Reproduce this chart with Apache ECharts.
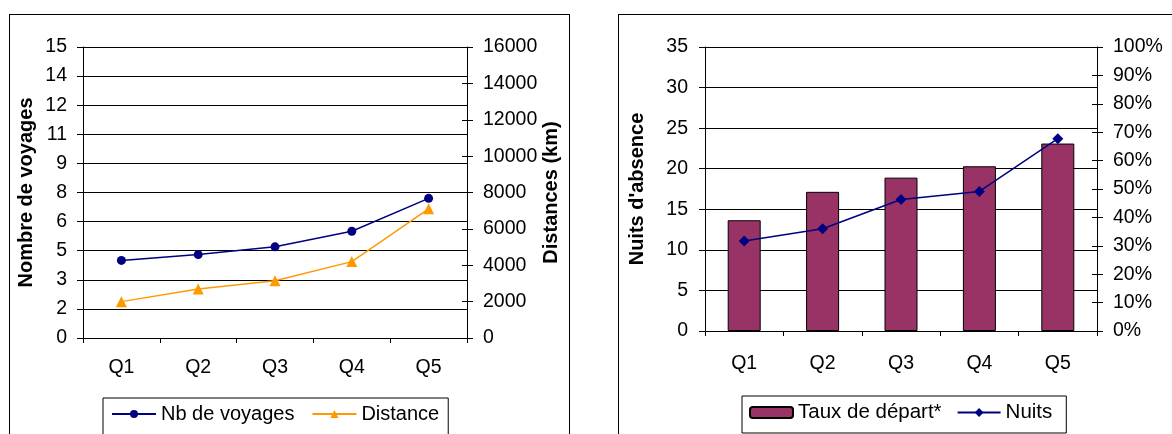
<!DOCTYPE html>
<html>
<head>
<meta charset="utf-8">
<script src="https://cdn.jsdelivr.net/npm/echarts@6/dist/echarts.min.js"></script>
<style>
html,body{margin:0;padding:0;background:#fff;width:1172px;height:434px;overflow:hidden;}
.frame{position:absolute;border:1.5px solid #000;box-sizing:border-box;}
#chart{position:absolute;left:0;top:0;width:1172px;height:434px;}
</style>
</head>
<body>
<div class="frame" style="left:9px;top:14px;width:561px;height:500px;"></div>
<div class="frame" style="left:618px;top:14px;width:600px;height:500px;"></div>
<div id="chart"></div>
<script>
const categories = ['Q1', 'Q2', 'Q3', 'Q4', 'Q5'];
const nbVoyages = [4.0, 4.3, 4.7, 5.5, 7.2];
const distanceKm = [2000, 2700, 3150, 4200, 7100];
const tauxDepart = [0.39, 0.49, 0.54, 0.58, 0.66];
const nuits = [11.1, 12.6, 16.2, 17.2, 23.7];

const FONT = '"Liberation Sans", Arial, sans-serif';
const lbl = {color: '#000', fontFamily: FONT, fontSize: 19.5};
const nameStyle = {color: '#000', fontFamily: FONT, fontSize: 20, fontWeight: 'bold'};
const axisLine = {show: true, lineStyle: {color: '#000', width: 1}};

const chart = echarts.init(document.getElementById('chart'), null, {renderer: 'canvas'});
chart.setOption({
  animation: false,
  backgroundColor: 'transparent',
  grid: [
    {left: 83, top: 47, width: 384, height: 291},
    {left: 705, top: 47, width: 392, height: 284}
  ],
  legend: [
    {
      left: 103, top: 398, orient: 'horizontal',
      data: ['Nb de voyages', 'Distance'],
      borderColor: '#000', borderWidth: 1, padding: [6, 9, 20, 8],
      itemWidth: 44, itemHeight: 10, itemGap: 17,
      textStyle: {color: '#000', fontFamily: FONT, fontSize: 20}
    },
    {
      left: 742, top: 396, orient: 'horizontal',
      data: ['Taux de départ*', 'Nuits'],
      borderColor: '#000', borderWidth: 1, padding: [6, 14, 10, 7],
      itemWidth: 43, itemHeight: 11, itemGap: 15,
      textStyle: {color: '#000', fontFamily: FONT, fontSize: 20.5}
    }
  ],
  xAxis: [
    {
      type: 'category', gridIndex: 0, data: categories, boundaryGap: true,
      axisLine: axisLine, axisTick: {show: true, length: 5, lineStyle: {color: '#000'}},
      axisLabel: Object.assign({margin: 20}, lbl), splitLine: {show: false}
    },
    {
      type: 'category', gridIndex: 1, data: categories, boundaryGap: true,
      axisLine: axisLine, axisTick: {show: true, length: 5, lineStyle: {color: '#000'}},
      axisLabel: Object.assign({margin: 23}, lbl), splitLine: {show: false}
    }
  ],
  yAxis: [
    {
      type: 'value', gridIndex: 0, position: 'left', min: 0, max: 15, interval: 1.5,
      name: 'Nombre de voyages', nameLocation: 'middle', nameRotate: 90, nameGap: 47,
      nameTextStyle: nameStyle,
      axisLine: axisLine, axisTick: {show: true, length: 6, lineStyle: {color: '#000'}},
      axisLabel: Object.assign({margin: 16, formatter: v => String(Math.round(v))}, lbl),
      splitLine: {show: true, lineStyle: {color: '#000', width: 1}}
    },
    {
      type: 'value', gridIndex: 0, position: 'right', min: 0, max: 16000, interval: 2000,
      name: 'Distances (km)', nameLocation: 'middle', nameRotate: 90, nameGap: 73,
      nameTextStyle: nameStyle,
      axisLine: axisLine, axisTick: {show: true, length: 6, lineStyle: {color: '#000'}},
      axisLabel: Object.assign({margin: 16, formatter: v => String(v)}, lbl),
      splitLine: {show: false}
    },
    {
      type: 'value', gridIndex: 0, position: 'right', min: 0, max: 16000, interval: 2000,
      axisLine: {show: false}, axisTick: {show: true, inside: true, length: 5, lineStyle: {color: '#000'}},
      axisLabel: {show: false}, splitLine: {show: false}
    },
    {
      type: 'value', gridIndex: 1, position: 'left', min: 0, max: 35, interval: 5,
      name: "Nuits d'absence", nameLocation: 'middle', nameRotate: 90, nameGap: 58,
      nameTextStyle: nameStyle,
      axisLine: axisLine, axisTick: {show: true, length: 6, lineStyle: {color: '#000'}},
      axisLabel: Object.assign({margin: 17}, lbl),
      splitLine: {show: true, lineStyle: {color: '#000', width: 1}}
    },
    {
      type: 'value', gridIndex: 1, position: 'right', min: 0, max: 1, interval: 0.1,
      axisLine: axisLine, axisTick: {show: true, length: 6, lineStyle: {color: '#000'}},
      axisLabel: Object.assign({margin: 16, formatter: v => Math.round(v * 100) + '%'}, lbl),
      splitLine: {show: false}
    },
    {
      type: 'value', gridIndex: 1, position: 'right', min: 0, max: 1, interval: 0.1,
      axisLine: {show: false}, axisTick: {show: true, inside: true, length: 5, lineStyle: {color: '#000'}},
      axisLabel: {show: false}, splitLine: {show: false}
    }
  ],
  series: [
    {
      name: 'Nb de voyages', type: 'line', xAxisIndex: 0, yAxisIndex: 0, data: nbVoyages,
      symbol: 'circle', symbolSize: 9, showAllSymbol: true,
      lineStyle: {color: '#000080', width: 1.5}, itemStyle: {color: '#000080'}
    },
    {
      name: 'Distance', type: 'line', xAxisIndex: 0, yAxisIndex: 1, data: distanceKm,
      symbol: 'triangle', symbolSize: 11, showAllSymbol: true,
      lineStyle: {color: '#FF9900', width: 1.5}, itemStyle: {color: '#FF9900'}
    },
    {
      name: 'Taux de départ*', type: 'bar', xAxisIndex: 1, yAxisIndex: 4, data: tauxDepart,
      barWidth: 33, itemStyle: {color: '#993366', borderColor: '#000', borderWidth: 1}
    },
    {
      name: 'Nuits', type: 'line', xAxisIndex: 1, yAxisIndex: 3, data: nuits,
      symbol: 'diamond', symbolSize: 11, showAllSymbol: true, z: 5,
      lineStyle: {color: '#000080', width: 1.5}, itemStyle: {color: '#000080'}
    }
  ]
});
</script>
</body>
</html>
